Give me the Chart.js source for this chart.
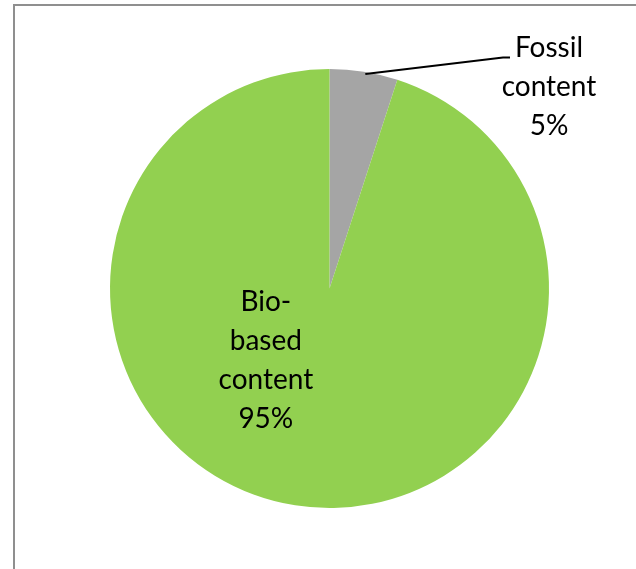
<!DOCTYPE html>
<html lang="en">
<head>
    <meta charset="UTF-8">
    <title>Bio-based vs fossil content</title>
    <script src="https://cdn.jsdelivr.net/npm/chart.js"></script>
    <style>
        body {
            margin: 0;
            background: #ffffff;
            overflow: hidden;
        }

        .frame {
            position: absolute;
            left: 13px;
            top: 4px;
            width: 700px;
            height: 700px;
            border: 2px solid #8f8f8f;
        }

        .chart-box {
            position: absolute;
            left: 0;
            top: 0;
            width: 636px;
            height: 569px;
        }
    </style>
</head>
<body>
    <div class="frame"></div>
    <div class="chart-box">
        <canvas id="contentChart"></canvas>
    </div>

    <script>
        const categories = ['Fossil content', 'Bio-based content'];
        const shares = [5, 95];
        const sliceColors = ['#a5a5a5', '#92d050'];
        // label text, split into lines the way it wraps
        const labelLines = [
            ['Fossil', 'content', '5%'],
            ['Bio-', 'based', 'content', '95%']
        ];

        // label block centres, in units of the pie radius from its centre
        const labelOffsets = [[1.0, -0.92], [-0.29, 0.33]];

        const sliceLabels = {
            id: 'sliceLabels',
            afterDatasetsDraw(chart) {
                const ctx = chart.ctx;
                const arcs = chart.getDatasetMeta(0).data;
                const lineHeight = 39;
                ctx.save();
                ctx.font = '28px Lato, "Open Sans", sans-serif';
                ctx.fillStyle = '#000000';
                ctx.textAlign = 'center';
                ctx.textBaseline = 'middle';

                arcs.forEach((arc, i) => {
                    const r = arc.outerRadius;
                    const cx = arc.x + labelOffsets[i][0] * r;
                    const cy = arc.y + labelOffsets[i][1] * r;
                    const lines = labelLines[i];
                    const top = cy - (lines.length - 1) * lineHeight / 2;
                    lines.forEach((t, j) => ctx.fillText(t, cx, top + j * lineHeight));

                    // leader line for the label sitting outside the pie
                    if (i === 0) {
                        const mid = (arc.startAngle + arc.endAngle) / 2;
                        const px = arc.x + Math.cos(mid) * r * 0.985;
                        const py = arc.y + Math.sin(mid) * r * 0.985;
                        const ex = cx - 46;
                        const ey = top + 10;
                        ctx.strokeStyle = '#000000';
                        ctx.lineWidth = 2;
                        ctx.beginPath();
                        ctx.moveTo(px + 2, py - 1);
                        ctx.lineTo(ex, ey);
                        ctx.lineTo(ex + 7, ey);
                        ctx.stroke();
                    }
                });
                ctx.restore();
            }
        };

        const ctx = document.getElementById('contentChart').getContext('2d');
        new Chart(ctx, {
            type: 'pie',
            data: {
                labels: categories,
                datasets: [{
                    data: shares,
                    backgroundColor: sliceColors,
                    borderWidth: 0
                }]
            },
            options: {
                responsive: true,
                maintainAspectRatio: false,
                animation: false,
                layout: {
                    padding: { left: 110, right: 87, top: 69, bottom: 61 }
                },
                plugins: {
                    legend: { display: false },
                    tooltip: { enabled: false }
                }
            },
            plugins: [sliceLabels]
        });
    </script>
</body>
</html>
